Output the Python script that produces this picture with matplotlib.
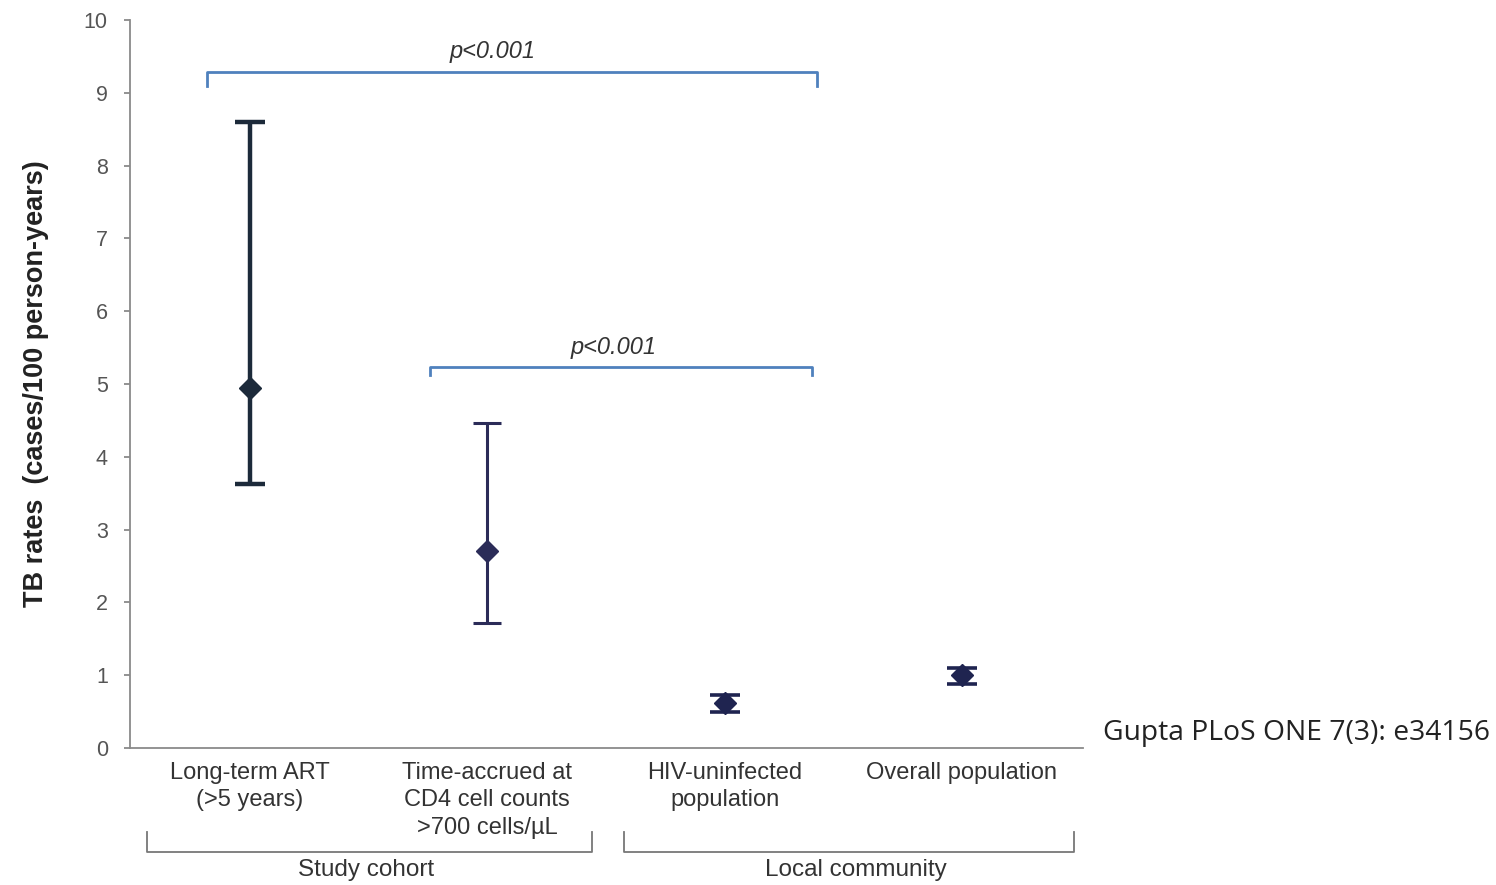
import matplotlib.pyplot as plt
import numpy as np

# TB rates with 95% CI
categories = ["Long-term ART\n(>5 years)",
              "Time-accrued at\nCD4 cell counts\n>700 cells/\u00b5L",
              "HIV-uninfected\npopulation",
              "Overall population"]
rates = [4.95, 2.70, 0.62, 1.00]
lower = [3.63, 1.72, 0.50, 0.88]
upper = [8.60, 4.47, 0.73, 1.10]
groups = ["Study cohort", "Local community"]
p_labels = ["p<0.001", "p<0.001"]

plt.rcParams['font.family'] = ['Liberation Sans', 'DejaVu Sans']

fig = plt.figure(figsize=(14.96, 8.85), dpi=100)
ax = fig.add_axes([130 / 1496, 137 / 885, (1083 - 130) / 1496, (748 - 20) / 885])

x = np.arange(len(rates))
r = np.array(rates)
lo = r - np.array(lower)
hi = np.array(upper) - r

# first one is drawn thicker than the others
styles = [("#1c2a3a", 3.2, 22), ("#2b2c58", 2.2, 20), ("#1f2450", 2.6, 21), ("#1f2450", 2.6, 21)]
for i in range(len(rates)):
    col, lw, cs = styles[i]
    ax.errorbar(x[i], r[i], yerr=[[lo[i]], [hi[i]]], fmt="D", color=col,
                ms=11, capsize=cs / 2, elinewidth=lw, capthick=lw, mfc=col, mec=col)

ax.set_xlim(-0.506, 3.51)
ax.set_ylim(0, 10)
ax.set_yticks(range(0, 11))
ax.tick_params(axis="y", colors="#808080", labelcolor="#555555", labelsize=15.5,
               length=4, width=1.2, pad=12)
ax.set_xticks(x)
ax.set_xticklabels(categories, fontsize=17, color="#333333", linespacing=1.32)
ax.tick_params(axis="x", length=0, pad=10)
for s in ["top", "right"]:
    ax.spines[s].set_visible(False)
for s in ["left", "bottom"]:
    ax.spines[s].set_color("#8a8a8a")
    ax.spines[s].set_linewidth(1.3)

ax.set_ylabel("TB rates  (cases/100 person-years)", fontsize=19.5, fontweight="bold",
              color="#222222", labelpad=25)

# significance brackets
bcol = "#4f81bd"
brackets = [(-0.18, 2.39, 9.29, 9.10), (0.76, 2.37, 5.23, 5.12)]
p_x = [1.02, 1.53]
for (x0, x1, yb, ye), px, lab in zip(brackets, p_x, p_labels):
    ax.plot([x0, x0, x1, x1], [ye, yb, yb, ye], color=bcol, lw=2, clip_on=False)
    ax.text(px, yb + 0.12, lab, ha="center", va="bottom",
            fontsize=17, style="italic", color="#333333")

# group brackets under the axis
gb = [(-0.434, 1.44), (1.576, 3.47)]
g_x = [0.49, 2.554]
for (x0, x1), gx, g in zip(gb, g_x, groups):
    ax.plot([x0, x0, x1, x1], [-1.15, -1.43, -1.43, -1.15], color="#777777",
            lw=1.3, clip_on=False)
    ax.text(gx, -1.52, g, ha="center", va="top", fontsize=17.5,
            color="#333333")

fig.text(1103 / 1496, 1 - 733 / 885, "Gupta PLoS ONE 7(3): e34156", ha="left",
         va="center", fontsize=20.3, family=["Open Sans", "DejaVu Sans"], color="#222222")

fig.savefig("out.png", dpi=100)
